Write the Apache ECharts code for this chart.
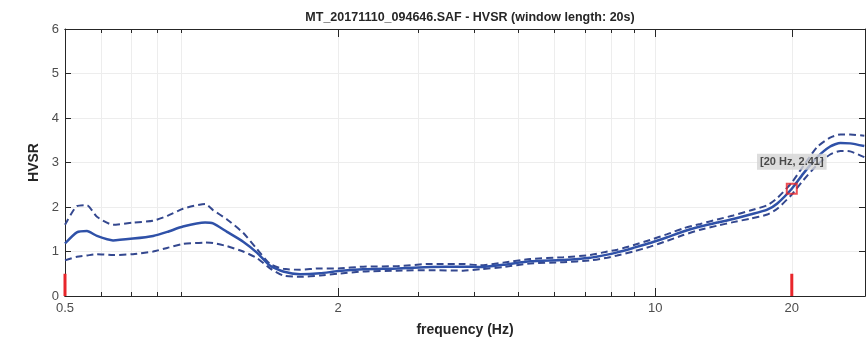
<!DOCTYPE html>
<html>
<head>
<meta charset="utf-8">
<script src="https://cdn.jsdelivr.net/npm/echarts@6/dist/echarts.min.js"></script>
<style>
  html, body { margin: 0; padding: 0; background: #fff; }
  #chart { width: 867px; height: 342px; }
  #frame { position: absolute; left: 6px; top: 0; width: 2px; height: 342px; background: #4a4a4a; }
</style>
</head>
<body>
<div id="frame"></div>
<div id="chart"></div>
<script>
// frequency (Hz) and HVSR curves
const freqs = [0.5, 0.531, 0.559, 0.588, 0.638, 0.706, 0.782, 0.84, 0.91, 1.018, 1.06, 1.138, 1.235, 1.326, 1.416, 1.513, 1.649, 1.825, 2.0, 2.27, 2.7, 3.19, 3.77, 4.11, 4.62, 5.3, 6.27, 7.19, 7.84, 8.24, 8.94, 9.75, 10.63, 11.53, 12.57, 13.7, 14.86, 16.2, 17.66, 18.58, 20.0, 21.2, 22.76, 24.3, 25.6, 26.9, 28.9]
const hvsrMean = [1.18, 1.43, 1.46, 1.35, 1.25, 1.29, 1.35, 1.44, 1.56, 1.65, 1.63, 1.44, 1.22, 0.97, 0.68, 0.55, 0.49, 0.51, 0.56, 0.60, 0.62, 0.65, 0.66, 0.65, 0.70, 0.78, 0.81, 0.86, 0.93, 0.98, 1.08, 1.19, 1.32, 1.45, 1.56, 1.65, 1.73, 1.83, 1.94, 2.08, 2.41, 2.75, 3.12, 3.36, 3.44, 3.43, 3.37]
const hvsrUpper = [1.60, 2.02, 2.04, 1.78, 1.60, 1.65, 1.69, 1.80, 1.96, 2.07, 1.93, 1.72, 1.42, 1.05, 0.72, 0.61, 0.59, 0.62, 0.62, 0.66, 0.67, 0.72, 0.72, 0.69, 0.75, 0.83, 0.87, 0.92, 1.00, 1.04, 1.14, 1.26, 1.39, 1.52, 1.62, 1.72, 1.81, 1.92, 2.04, 2.20, 2.55, 2.92, 3.35, 3.56, 3.63, 3.63, 3.60]
const hvsrLower = [0.80, 0.88, 0.91, 0.94, 0.92, 0.94, 1.00, 1.08, 1.17, 1.20, 1.19, 1.12, 1.00, 0.85, 0.62, 0.46, 0.43, 0.46, 0.50, 0.55, 0.57, 0.58, 0.57, 0.60, 0.65, 0.73, 0.76, 0.80, 0.86, 0.91, 1.00, 1.11, 1.24, 1.37, 1.49, 1.58, 1.66, 1.74, 1.83, 1.96, 2.28, 2.60, 2.95, 3.18, 3.26, 3.25, 3.12]

const markerFreqs = [0.5, 20]
const markerHeight = 0.5
const peakPoint = [20, 2.41]

const xMajorTicks = [0.5, 2, 10, 20]
const xMinorTicks = [0.6, 0.7, 0.8, 0.9, 3, 4, 5, 6, 7, 8, 9]
const yTicks = [0, 1, 2, 3, 4, 5, 6]

const FONT = '"Liberation Sans", Arial, sans-serif'
const BLUE = '#2f51a8'
const DASH_BLUE = '#34488f'
const AXIS = '#262626'

const pairs = ys => freqs.map((f, i) => [f, ys[i]])

const xBase = (pos, ticks, len, withLabels) => ({
  type: 'log',
  logBase: 10,
  min: 0.5,
  max: 29,
  position: pos,
  axisLine: { show: true, onZero: false, lineStyle: { color: AXIS, width: 1 } },
  axisTick: { show: true, inside: true, length: len, customValues: ticks, lineStyle: { color: AXIS } },
  axisLabel: withLabels
    ? { show: true, customValues: xMajorTicks, color: '#4d4d4d', fontSize: 13, fontFamily: FONT, margin: 6, formatter: v => String(+v.toFixed(2)) }
    : { show: false },
  splitLine: { show: pos === 'bottom', lineStyle: { color: '#ededed', width: 1 } },
})

const yBase = (pos, withLabels) => ({
  type: 'value',
  min: 0,
  max: 6,
  interval: 1,
  position: pos,
  axisLine: { show: true, onZero: false, lineStyle: { color: AXIS, width: 1 } },
  axisTick: { show: true, inside: true, length: 6, lineStyle: { color: AXIS } },
  axisLabel: withLabels
    ? { show: true, customValues: yTicks, color: '#4d4d4d', fontSize: 13, fontFamily: FONT, margin: 6 }
    : { show: false },
  splitLine: { show: withLabels, lineStyle: { color: '#ededed', width: 1 } },
})

const chart = echarts.init(document.getElementById('chart'), null, { renderer: 'canvas' })

const xAxes = [
  Object.assign(xBase('bottom', xMajorTicks.slice(1), 8, true), {
    name: 'frequency (Hz)', nameLocation: 'middle', nameGap: 27,
    nameTextStyle: { color: AXIS, fontSize: 14, fontWeight: 'bold', fontFamily: FONT },
  }),
  xBase('bottom', xMinorTicks, 4, false),
  xBase('top', xMajorTicks.slice(1), 8, false),
  xBase('top', xMinorTicks, 4, false),
]

const yAxes = [
  Object.assign(yBase('left', true), {
    name: 'HVSR', nameLocation: 'middle', nameGap: 22, nameRotate: 90,
    nameTextStyle: { color: AXIS, fontSize: 14, fontWeight: 'bold', fontFamily: FONT },
  }),
  yBase('right', false),
]

const markerSeries = markerFreqs.map(f => ({
  type: 'line',
  data: [[f, 0], [f, markerHeight]],
  symbol: 'none',
  silent: true,
  z: 4,
  lineStyle: { color: '#e8262b', width: 3 },
}))

chart.setOption({
  animation: false,
  backgroundColor: '#fff',
  title: {
    text: 'MT_20171110_094646.SAF - HVSR (window length: 20s)',
    left: 465,
    top: 6,
    textAlign: 'center',
    textStyle: { color: AXIS, fontSize: 12.5, fontWeight: 'bold', fontFamily: FONT },
  },
  grid: { left: 65, right: 2, top: 29, bottom: 44 },
  xAxis: xAxes,
  yAxis: yAxes,
  series: [
    ...markerSeries,
    {
      type: 'line', data: pairs(hvsrUpper), symbol: 'none', smooth: 0.2, z: 3,
      lineStyle: { color: DASH_BLUE, width: 2, type: [7, 4] },
    },
    {
      type: 'line', data: pairs(hvsrLower), symbol: 'none', smooth: 0.2, z: 3,
      lineStyle: { color: DASH_BLUE, width: 2, type: [7, 4] },
    },
    {
      type: 'line', data: pairs(hvsrMean), symbol: 'none', smooth: 0.2, z: 5,
      lineStyle: { color: BLUE, width: 2.5 },
    },
    {
      type: 'scatter',
      data: [peakPoint],
      symbol: 'rect',
      symbolSize: 10,
      z: 6,
      itemStyle: { color: 'rgba(0,0,0,0)', borderColor: '#e8262b', borderWidth: 2 },
      label: {
        show: true,
        position: 'top',
        distance: 13,
        formatter: p => `[${p.value[0]} Hz, ${p.value[1]}]`,
        color: AXIS,
        fontSize: 11,
        fontWeight: 'bold',
        fontFamily: FONT,
        backgroundColor: '#d4d4d4',
        padding: [3, 3, 2, 3],
      },
    },
  ],
})
</script>
</body>
</html>
